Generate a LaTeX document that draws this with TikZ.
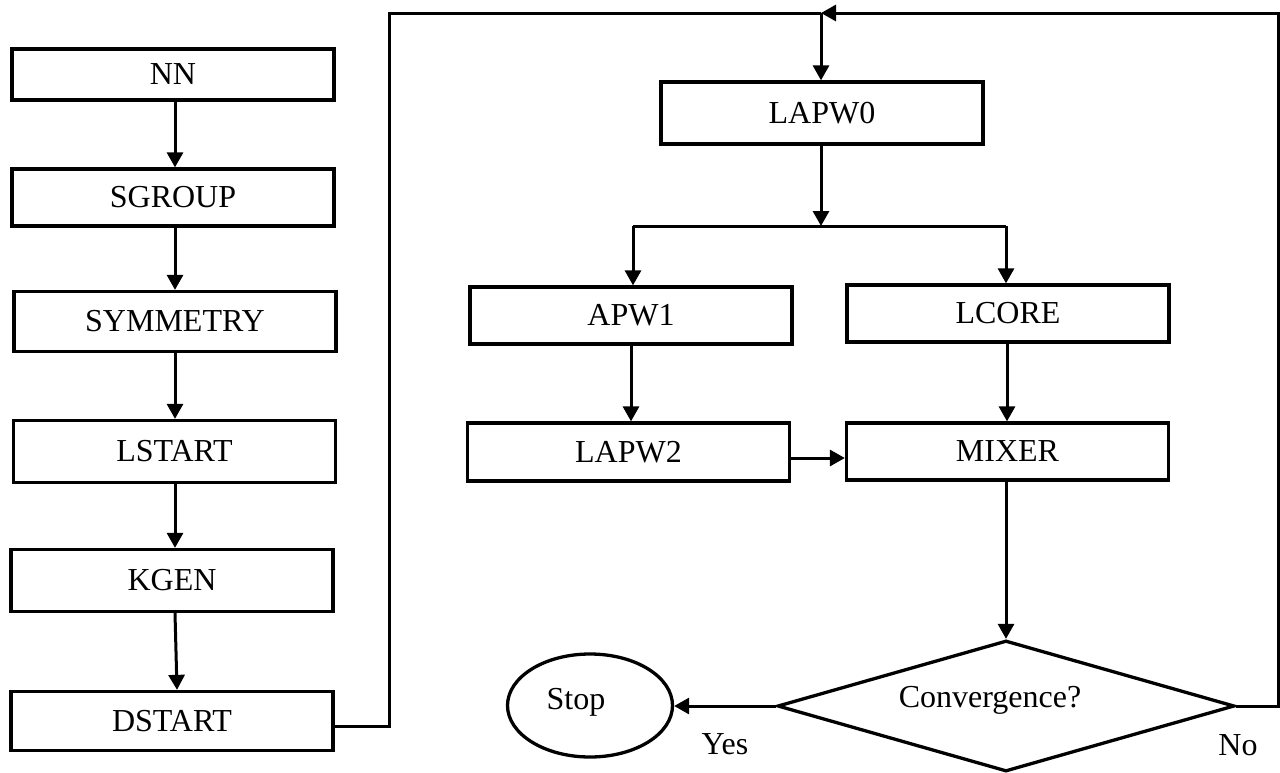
\documentclass[tikz,border=0pt]{standalone}
\usepackage{fontspec}
\setmainfont{Liberation Serif}
\usetikzlibrary{arrows.meta,shapes.geometric}
\begin{document}
\begin{tikzpicture}[x=1pt,y=-1pt,
  every node/.style={font=\fontsize{32}{37}\selectfont},
  stepbox/.style={draw,line width=3.3pt,rectangle,inner sep=0pt,minimum width=322pt},
  conn/.style={line width=3pt},
  arr/.style={line width=3pt,-{Triangle[length=15pt,width=16pt]}},
  plain/.style={inner sep=0pt}
]
\useasboundingbox (0,0) rectangle (1280,772);
% left column
\node[stepbox,minimum height=51pt] (NN) at (173,74.5) {\raisebox{-3pt}{NN}};
\node[stepbox,minimum height=57pt] (SG) at (173,197.5) {SGROUP};
\node[stepbox,minimum height=60pt] (SY) at (175,321.5) {SYMMETRY};
\node[stepbox,minimum height=62pt] (LS) at (174.5,451.5) {LSTART};
\node[stepbox,minimum height=62pt] (KG) at (172,580.5) {KGEN};
\node[stepbox,minimum height=59pt] (DS) at (172,721) {DSTART};
% right part
\node[stepbox,minimum height=62pt] (L0) at (822,113) {LAPW0};
\node[stepbox,minimum height=57pt] (A1) at (631,315.5) {APW1};
\node[stepbox,minimum height=57pt] (LC) at (1008,313.5) {LCORE};
\node[stepbox,minimum height=58pt] (L2) at (628.5,452) {LAPW2};
\node[stepbox,minimum height=57pt] (MX) at (1007.5,451.5) {MIXER};
\node[draw,diamond,line width=3.3pt,inner sep=0pt,minimum width=457pt,minimum height=131pt] (DI) at (1006,706) {};
\node[plain] (DT) at (990,700) {Convergence?};
\node[draw,ellipse,line width=3.3pt,inner sep=0pt,minimum width=165pt,minimum height=103pt] (ST) at (590,705.5) {};
\node[plain] (STT) at (576,702) {Stop};
\node[plain] (YES) at (725,744) {Yes};
\node[plain] (NO) at (1238,745) {No};
% coordinates
\coordinate (c1) at (389,726);
\coordinate (c2) at (389,13);
\coordinate (top) at (821,13);
\coordinate (c3) at (1278,706);
\coordinate (c4) at (1278,13);
\coordinate (split) at (821,226);
\coordinate (sl) at (633,226);
\coordinate (sr) at (1006,226);
% left arrows
\draw[arr] (NN.south -| 175,0) -- (SG.north -| 175,0);
\draw[arr] (SG.south -| 175,0) -- (SY.north -| 175,0);
\draw[arr] (SY.south -| 175,0) -- (LS.north -| 175,0);
\draw[arr] (LS.south -| 175,0) -- (KG.north -| 175,0);
\draw[arr] (KG.south -| 175,0) -- (DS.north -| 177,0);
% loop into LAPW0
\draw[conn] (DS.east |- c1) -- (c1) -- (c2) -- (top);
\draw[arr] (top) -- (L0.north -| top);
\draw[arr] (DI.east) -- (c3) -- (c4) -- (top);
% split
\draw[arr] (L0.south -| split) -- (split);
\draw[conn] (sl) -- (sr);
\draw[arr] (sl) -- (A1.north -| sl);
\draw[arr] (sr) -- (LC.north -| sr);
\draw[arr] (A1.south) -- (A1.south |- L2.north);
\draw[arr] (LC.south -| 1007,0) -- (MX.north -| 1007,0);
\draw[arr] ([yshift=-6pt]L2.east) -- ([yshift=-6pt]L2.east -| MX.west);
\draw[arr] (MX.south -| DI.north) -- (DI.north);
\draw[arr] (DI.west) -- (DI.west -| ST.east);
\end{tikzpicture}
\end{document}
